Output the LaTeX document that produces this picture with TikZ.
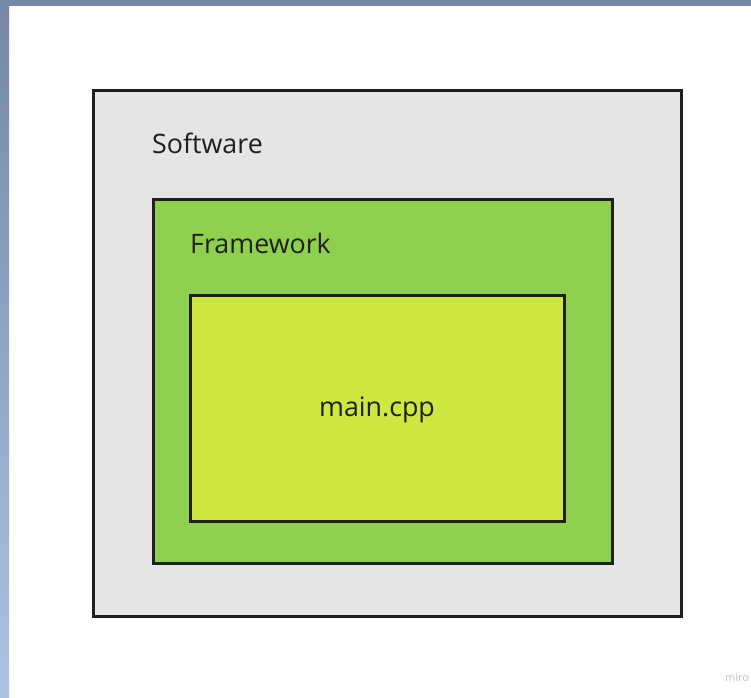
\documentclass[tikz,border=0pt]{standalone}
\usepackage{fontspec}
\setmainfont{Open Sans}
\begin{document}
\begin{tikzpicture}[x=1pt,y=-1pt,
  box/.style={draw=black!88, line width=3pt},
  lbl/.style={font=\fontsize{26.8}{30}\selectfont, text=black!88, inner sep=0pt}]
\definecolor{barc}{HTML}{7487A6}
\definecolor{stripbot}{HTML}{ADC3E6}
\definecolor{outerfill}{HTML}{E5E5E5}
\definecolor{fwfill}{HTML}{8FD14F}
\definecolor{mainfill}{HTML}{CEE741}
\definecolor{mirocol}{HTML}{C2C2D6}
\useasboundingbox (0,0) rectangle (751,697);
\fill[white] (0,0) rectangle (751,697);
\fill[barc] (0,0) rectangle (751,6);
\shade[top color=barc, bottom color=stripbot] (0,0) rectangle (9,697);
\node[box, fill=outerfill, minimum width=588pt, minimum height=526pt, inner sep=0pt] (sw) at (387,353) {};
\node[box, fill=fwfill, minimum width=459pt, minimum height=364pt, inner sep=0pt] (fw) at (382.5,381) {};
\node[box, fill=mainfill, minimum width=374pt, minimum height=226pt, inner sep=0pt] (mc) at (377,408) {};
\node[lbl, anchor=base west] (swl) at (152,153) {Software};
\node[lbl, anchor=base west] (fwl) at (190,253) {Framework};
\node[lbl] (mcl) at (377,410) {main.cpp};
\node[font=\fontsize{11}{13}\selectfont, text=mirocol, inner sep=0pt] (miro) at (737,678) {miro};
\end{tikzpicture}
\end{document}
